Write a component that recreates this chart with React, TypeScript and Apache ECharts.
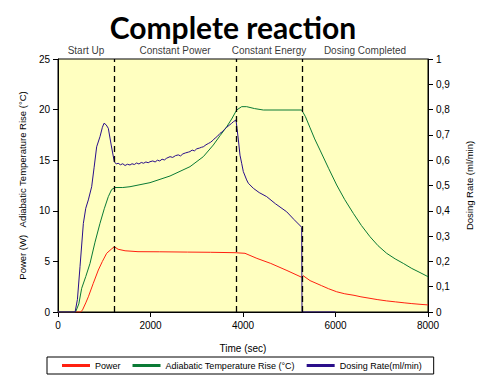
import React, { useEffect, useRef } from "react";
import * as echarts from "echarts";

const titleText = "Complete reaction";
const phaseLabels = ["Start Up", "Constant Power", "Constant Energy", "Dosing Completed"];
const phaseBoundaries = [1211, 3849, 5276];
const timeMin = 0;
const timeMax = 8000;

const powerData: [number, number][] = [
  [0, 0], [490, 0], [530, 0.2], [600, 0.9], [656, 1.5], [760, 2.8], [872, 4.15], [960, 5.0],
  [1052, 5.8], [1150, 6.2], [1217, 6.45], [1300, 6.2], [1450, 6.05], [1730, 5.96], [2200, 5.95],
  [2800, 5.92], [3300, 5.9], [3827, 5.86], [4043, 5.8], [4300, 5.3], [4600, 4.8], [4950, 4.1],
  [5269, 3.43], [5300, 3.59], [5450, 3.1], [5600, 2.8], [5700, 2.6], [5850, 2.3], [6025, 2.0],
  [6200, 1.8], [6400, 1.65], [6550, 1.5], [6746, 1.35], [6900, 1.23], [7100, 1.1], [7300, 1.0],
  [7500, 0.9], [7650, 0.83], [7827, 0.76], [8000, 0.7],
];

const tempData: [number, number][] = [
  [0, 0], [380, 0], [450, 0.8], [512, 2.34], [600, 3.5], [692, 4.8], [800, 6.9], [908, 8.76],
  [1000, 10.2], [1088, 11.4], [1160, 12.1], [1232, 12.3], [1400, 12.3], [1557, 12.38],
  [1989, 12.78], [2422, 13.44], [2854, 14.36], [3142, 15.35], [3358, 16.5], [3503, 17.42],
  [3647, 18.3], [3755, 19.07], [3863, 19.96], [3971, 20.29], [4079, 20.29], [4250, 20.1],
  [4440, 19.96], [5269, 19.96], [5350, 19.3], [5450, 18.2], [5550, 17.1], [5665, 16.0],
  [5850, 14.2], [6025, 12.55], [6200, 11.1], [6385, 9.75], [6560, 8.55], [6746, 7.44],
  [6920, 6.55], [7106, 5.8], [7290, 5.25], [7467, 4.8], [7650, 4.3], [7827, 3.9], [8000, 3.49],
];

const dosingData: [number, number][] = [
  [0, 0], [370, 0], [420, 0.05], [476, 0.179], [548, 0.35], [600, 0.41], [656, 0.443],
  [728, 0.495], [780, 0.57], [836, 0.653], [908, 0.693], [960, 0.73], [995, 0.746],
  [1040, 0.74], [1088, 0.726], [1150, 0.66], [1217, 0.594], [1260, 0.585], [1300, 0.588],
  [1350, 0.582], [1400, 0.586], [1450, 0.579], [1500, 0.584], [1557, 0.581], [1600, 0.586],
  [1650, 0.583], [1700, 0.589], [1750, 0.585], [1800, 0.591], [1850, 0.588], [1900, 0.593],
  [1950, 0.59], [1989, 0.594], [2050, 0.597], [2100, 0.593], [2150, 0.6], [2200, 0.597],
  [2250, 0.604], [2300, 0.601], [2350, 0.608], [2422, 0.614], [2480, 0.611], [2540, 0.618],
  [2600, 0.621], [2650, 0.617], [2700, 0.625], [2760, 0.629], [2820, 0.632], [2854, 0.634],
  [2900, 0.64], [2950, 0.637], [3000, 0.645], [3060, 0.648], [3100, 0.651], [3142, 0.653],
  [3200, 0.661], [3250, 0.666], [3300, 0.671], [3358, 0.68], [3400, 0.688], [3450, 0.695],
  [3503, 0.706], [3550, 0.712], [3600, 0.722], [3647, 0.73], [3700, 0.738], [3750, 0.745],
  [3791, 0.752], [3849, 0.759], [3870, 0.726], [3900, 0.68], [3935, 0.62], [3971, 0.588],
  [4007, 0.555], [4079, 0.522], [4115, 0.509], [4223, 0.489], [4350, 0.472], [4512, 0.456],
  [4700, 0.428], [4945, 0.396], [5100, 0.366], [5269, 0.335], [5276, 0], [6000, 0],
];

const FONT = "Liberation Sans, Arial, sans-serif";

export default function App() {
  const ref = useRef<HTMLDivElement>(null);

  useEffect(() => {
    if (!ref.current) return;
    const chart = echarts.init(ref.current, undefined, { renderer: "svg" });

    const edges = [timeMin, ...phaseBoundaries, timeMax];
    const phaseCenters = phaseLabels.map((name, i) => ({
      name,
      value: [(edges[i] + edges[i + 1]) / 2, 25],
    }));

    const axisCommon = {
      axisLine: { show: true, lineStyle: { color: "#000", width: 1 } },
      axisTick: { show: true, inside: false, length: 5, lineStyle: { color: "#000" } },
      splitLine: { show: false },
      axisLabel: { color: "#000", fontSize: 10, fontFamily: FONT },
      nameTextStyle: { color: "#000", fontSize: 9.5, fontFamily: FONT },
    };

    chart.setOption({
      animation: false,
      backgroundColor: "#fff",
      grid: {
        left: 58,
        right: 69,
        top: 59,
        bottom: 70,
        show: true,
        backgroundColor: "#FFFFC0",
        borderColor: "#000",
        borderWidth: 1,
      },
      graphic: [
        {
          type: "text",
          x: 233,
          y: 27,
          style: {
            text: titleText,
            fontFamily: "Lato, sans-serif",
            fontWeight: "bold",
            fontSize: 30,
            fill: "#000",
            textAlign: "center",
            textVerticalAlign: "middle",
          },
        },
      ],
      legend: {
        data: ["Power", "Adiabatic Temperature Rise (°C)", "Dosing Rate(ml/min)"],
        left: 47,
        top: 357,
        padding: [4, 12, 4, 15],
        borderColor: "#000",
        borderWidth: 1,
        itemWidth: 28,
        itemHeight: 3,
        itemGap: 12,
        icon: "rect",
        textStyle: { color: "#000", fontSize: 9, fontFamily: FONT },
      },
      xAxis: {
        type: "value",
        min: timeMin,
        max: timeMax,
        interval: 2000,
        name: "Time (sec)",
        nameLocation: "middle",
        nameGap: 31,
        ...axisCommon,
        nameTextStyle: { color: "#000", fontSize: 10, fontFamily: FONT },
        axisLabel: {
          ...axisCommon.axisLabel,
          formatter: (v: number) => String(v),
        },
      },
      yAxis: [
        {
          type: "value",
          min: 0,
          max: 25,
          interval: 5,
          name: "Power (W)   Adiabatic Temperature Rise (°C)",
          nameLocation: "middle",
          nameGap: 30,
          ...axisCommon,
        },
        {
          type: "value",
          min: 0,
          max: 1,
          interval: 0.1,
          position: "right",
          name: "Dosing Rate (ml/min)",
          nameLocation: "middle",
          nameGap: 36,
          nameRotate: 90,
          ...axisCommon,
          axisLabel: {
            ...axisCommon.axisLabel,
            formatter: (v: number) =>
              v === 0 || v === 1 ? String(v) : v.toFixed(1).replace(".", ","),
          },
        },
      ],
      series: [
        {
          name: "Power",
          type: "line",
          data: powerData,
          showSymbol: false,
          lineStyle: { color: "#FF2010", width: 1 },
          itemStyle: { color: "#FF2010" },
          z: 3,
        },
        {
          name: "Adiabatic Temperature Rise (°C)",
          type: "line",
          data: tempData,
          showSymbol: false,
          lineStyle: { color: "#0A7A35", width: 1 },
          itemStyle: { color: "#0A7A35" },
          z: 3,
        },
        {
          name: "Dosing Rate(ml/min)",
          type: "line",
          yAxisIndex: 1,
          data: dosingData,
          showSymbol: false,
          lineStyle: { color: "#2A0F8A", width: 1 },
          itemStyle: { color: "#2A0F8A" },
          z: 3,
          markLine: {
            silent: true,
            symbol: ["none", "none"],
            label: { show: false },
            lineStyle: { color: "#000", type: [6, 4], width: 1.3 },
            data: phaseBoundaries.map((b) => ({ xAxis: b })),
          },
        },
        {
          name: "phases",
          type: "scatter",
          data: phaseCenters,
          symbolSize: 0,
          silent: true,
          label: {
            show: true,
            position: "top",
            distance: 4,
            formatter: (p: any) => p.name,
            color: "#000",
            fontSize: 10,
            fontFamily: FONT,
          },
        },
      ],
    });

    return () => chart.dispose();
  }, []);

  return (
    <div
      ref={ref}
      style={{ position: "absolute", left: 0, top: 0, width: 497, height: 382 }}
    />
  );
}
